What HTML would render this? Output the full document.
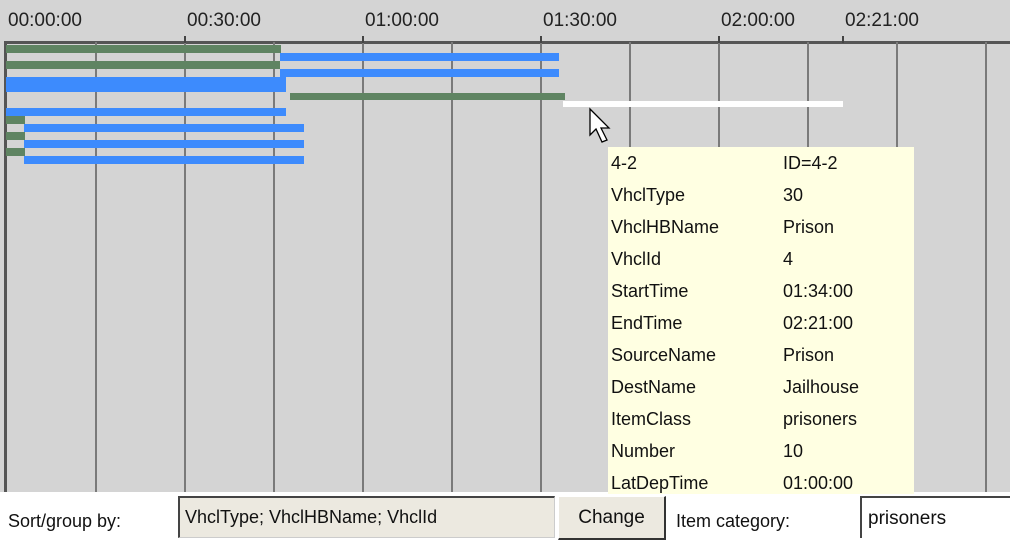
<!DOCTYPE html>
<html><head><style>
body{margin:0;width:1010px;height:551px;background:#fff;position:relative;overflow:hidden;font-family:"Liberation Sans",sans-serif;}
div{position:absolute;box-sizing:border-box;}
.g{background:#5f8462;}
.b{background:#3d8bfd;}
.v{width:2px;background:#7a7a7a;top:42px;height:450px;}
.t{width:2px;background:#444;top:36px;height:7px;}
.l{top:10px;font-size:19px;color:#222;}
.tt{font-size:18px;color:#111;left:611px;}
.tv{font-size:18px;color:#111;left:783px;}
</style></head><body>
<div style="left:0;top:0;width:1010px;height:492px;background:#d4d4d4"></div>
<div style="left:4px;top:41px;width:1006px;height:3px;background:#555"></div>
<div style="left:4px;top:41px;width:3px;height:451px;background:#555"></div>
<div class="v" style="left:95px"></div><div class="v" style="left:184px"></div><div class="v" style="left:273px"></div><div class="v" style="left:362px"></div><div class="v" style="left:451px"></div><div class="v" style="left:540px"></div><div class="v" style="left:629px"></div><div class="v" style="left:718px"></div><div class="v" style="left:807px"></div><div class="v" style="left:896px"></div><div class="v" style="left:985px"></div>
<div class="t" style="left:184px"></div><div class="t" style="left:362px"></div><div class="t" style="left:540px"></div><div class="t" style="left:718px"></div><div class="t" style="left:842px"></div>
<div class="l" style="left:8px">00:00:00</div>
<div class="l" style="left:187px">00:30:00</div>
<div class="l" style="left:365px">01:00:00</div>
<div class="l" style="left:543px">01:30:00</div>
<div class="l" style="left:721px">02:00:00</div>
<div class="l" style="left:845px">02:21:00</div>
<div class="g" style="left:6px;top:45px;width:275px;height:8px"></div>
<div class="b" style="left:280px;top:53px;width:279px;height:8px"></div>
<div class="g" style="left:6px;top:61px;width:274px;height:8px"></div>
<div class="b" style="left:280px;top:69px;width:279px;height:8px"></div>
<div class="b" style="left:6px;top:77px;width:280px;height:15px"></div>
<div class="g" style="left:290px;top:93px;width:275px;height:7px"></div>
<div style="left:563px;top:101px;width:280px;height:6px;background:#fff"></div>
<div class="b" style="left:6px;top:108px;width:280px;height:8px"></div>
<div class="g" style="left:6px;top:116px;width:19px;height:8px"></div>
<div class="b" style="left:24px;top:124px;width:280px;height:8px"></div>
<div class="g" style="left:6px;top:132px;width:19px;height:8px"></div>
<div class="b" style="left:24px;top:140px;width:280px;height:8px"></div>
<div class="g" style="left:6px;top:148px;width:19px;height:8px"></div>
<div class="b" style="left:24px;top:156px;width:280px;height:8px"></div>
<svg style="position:absolute;left:588px;top:107px" width="26" height="40"><path d="M2 2 L2 28 L8 22 L14 35 L19 33 L13 21 L21 21 Z" fill="#fff" stroke="#000" stroke-width="1.3"/></svg>
<div style="left:608px;top:147px;width:306px;height:347px;background:#ffffe2"></div>
<div class="tt" style="top:153px">4-2</div><div class="tv" style="top:153px">ID=4-2</div>
<div class="tt" style="top:185px">VhclType</div><div class="tv" style="top:185px">30</div>
<div class="tt" style="top:217px">VhclHBName</div><div class="tv" style="top:217px">Prison</div>
<div class="tt" style="top:249px">VhclId</div><div class="tv" style="top:249px">4</div>
<div class="tt" style="top:281px">StartTime</div><div class="tv" style="top:281px">01:34:00</div>
<div class="tt" style="top:313px">EndTime</div><div class="tv" style="top:313px">02:21:00</div>
<div class="tt" style="top:345px">SourceName</div><div class="tv" style="top:345px">Prison</div>
<div class="tt" style="top:377px">DestName</div><div class="tv" style="top:377px">Jailhouse</div>
<div class="tt" style="top:409px">ItemClass</div><div class="tv" style="top:409px">prisoners</div>
<div class="tt" style="top:441px">Number</div><div class="tv" style="top:441px">10</div>
<div class="tt" style="top:473px">LatDepTime</div><div class="tv" style="top:473px">01:00:00</div>
<div style="left:8px;top:511px;font-size:18px;color:#111">Sort/group by:</div>
<div style="left:178px;top:496px;width:377px;height:42px;background:#ece9e0;border-top:2px solid #444;border-left:2px solid #444;border-bottom:1px solid #ccc;border-right:1px solid #ccc;font-size:18px;padding:9px 0 0 5px;color:#111">VhclType; VhclHBName; VhclId</div>
<div style="left:558px;top:496px;width:108px;height:44px;background:#ece9e0;border-top:1px solid #fff;border-left:1px solid #fff;border-right:2px solid #333;border-bottom:2px solid #333;font-size:19px;text-align:center;padding-top:10px;color:#111">Change</div>
<div style="left:676px;top:511px;font-size:18px;color:#111">Item category:</div>
<div style="left:860px;top:496px;width:150px;height:42px;background:#fff;border-top:2px solid #444;border-left:2px solid #444;font-size:19px;padding:10px 0 0 6px;color:#111">prisoners</div>
</body></html>
